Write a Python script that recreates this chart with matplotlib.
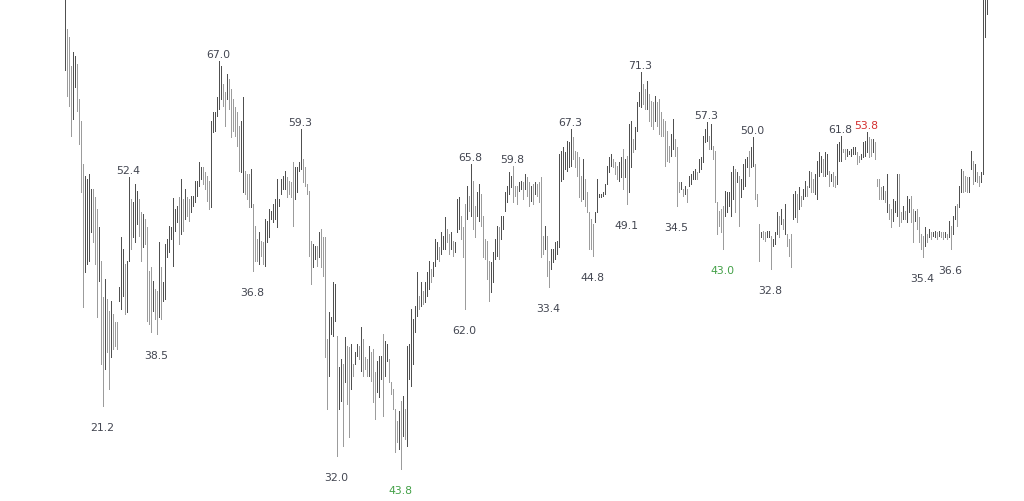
import matplotlib
matplotlib.use("Agg")
import matplotlib.pyplot as plt

# High / low of each bar (chart units)
highs = [532,472,464,435,449,445,437,402,380,337,325,322,327,312,312,304,292,274,240,204,
         222,202,190,200,187,179,179,214,264,252,237,240,324,302,299,317,310,302,289,287,
         282,274,230,234,220,212,210,259,234,219,257,262,275,274,303,292,295,304,322,302,
         312,304,302,305,305,320,320,339,334,334,329,325,320,380,389,389,404,440,435,417,
         409,427,422,412,402,394,389,375,380,404,330,327,327,332,297,275,262,269,260,259,
         282,280,292,290,297,302,322,302,322,325,330,324,320,319,339,334,334,339,372,342,
         334,317,310,260,257,255,255,269,272,264,264,162,189,184,219,217,165,134,142,137,
         164,155,154,157,137,149,157,155,174,162,144,142,155,149,152,129,140,145,145,167,
         160,157,142,119,112,92,80,90,100,105,92,155,157,192,182,195,229,205,219,210,
         219,229,240,232,239,262,259,254,269,265,284,272,267,269,260,259,302,304,285,274,
         297,315,305,337,320,295,309,317,307,285,262,260,240,239,249,262,275,274,285,285,
         309,315,329,325,335,315,315,319,320,319,327,324,319,315,317,319,317,319,324,265,
         275,265,240,252,252,259,260,347,350,354,349,360,359,372,364,350,349,344,325,342,
         322,309,289,282,277,289,322,307,307,309,317,335,344,347,342,339,335,339,344,352,
         342,345,377,380,362,374,399,409,429,417,412,420,407,400,399,405,399,402,389,382,
         380,370,355,367,382,362,354,319,319,312,315,312,325,327,330,332,329,342,344,365,
         372,379,365,377,355,350,299,290,292,295,310,309,309,329,335,332,329,325,322,337,
         342,344,350,354,364,337,307,277,269,270,269,270,270,265,262,269,289,285,292,282,
         297,267,262,267,307,310,307,314,305,312,320,315,330,329,322,327,340,349,345,342,
         349,347,330,327,329,325,357,359,365,352,352,352,350,352,354,354,349,345,347,359,
         360,369,364,362,362,359,322,322,314,315,310,327,297,292,302,300,327,327,289,295,
         290,305,302,305,292,290,292,284,267,265,274,267,272,269,269,270,269,270,269,269,
         269,267,280,275,285,295,297,315,332,330,325,324,324,350,340,337,329,325,329,532,
         532,532]
lows = [431,405,395,365,382,414,390,357,309,194,229,237,240,269,259,237,184,220,137,95,
        132,149,112,144,152,155,152,200,192,205,187,189,240,252,264,259,277,265,240,254,
        257,180,177,169,190,182,167,184,182,200,202,244,249,262,235,270,279,257,267,270,
        282,285,280,289,295,299,305,315,322,317,312,300,292,294,369,370,385,392,402,395,
        375,402,392,364,370,365,355,330,329,309,307,302,294,294,230,240,240,237,245,237,
        235,259,264,282,279,282,274,295,307,312,312,304,307,304,275,302,309,330,332,319,
        315,307,245,217,234,242,235,244,234,225,144,92,125,167,165,180,45,92,100,55,
        119,97,64,112,125,137,145,142,130,125,132,125,125,120,99,82,109,104,122,85,
        125,140,119,107,92,49,59,52,32,65,62,55,122,115,137,169,185,192,195,197,
        199,205,212,219,225,235,242,240,247,252,252,259,247,252,245,249,269,272,262,244,
        192,282,290,285,272,264,285,280,275,244,242,222,200,209,219,242,245,242,262,272,
        290,299,307,314,299,305,297,310,312,302,312,305,295,300,297,307,305,299,244,247,
        252,225,214,232,239,242,247,254,320,322,332,330,334,335,342,334,325,304,300,302,
        295,289,252,252,245,279,289,304,304,305,307,317,329,335,334,327,322,320,324,312,
        324,297,309,334,349,352,370,395,394,397,392,392,380,375,372,380,375,367,365,365,
        335,340,339,345,352,345,295,309,312,305,307,299,315,317,322,322,322,329,332,339,
        359,360,352,352,342,299,267,275,269,252,285,289,295,285,302,289,319,275,304,312,
        315,334,325,334,335,302,295,240,264,262,260,264,264,232,255,257,267,264,277,272,
        267,255,245,234,282,284,279,292,295,302,305,305,314,309,309,307,302,325,329,325,
        325,327,315,320,315,314,317,340,340,349,342,345,347,345,347,347,337,339,342,344,
        345,349,344,345,349,342,315,302,302,302,299,289,282,274,280,289,285,275,279,282,
        282,279,289,279,259,280,272,259,252,244,255,259,264,262,265,264,262,265,264,262,
        264,262,264,252,267,282,275,294,309,309,310,309,309,332,317,320,319,315,319,327,
        464,487]

# Pivot labels: bar index, text, placement, colour key
label_idx  = [19, 32, 46, 77, 94, 118, 136, 168, 200, 203, 224, 242, 253, 264, 288,
              281, 306, 321, 329, 344, 353, 388, 401, 429, 443]
label_text = ["21.2", "52.4", "38.5", "67.0", "36.8", "59.3", "32.0", "43.8", "62.0",
              "65.8", "59.8", "33.4", "67.3", "44.8", "71.3", "49.1", "34.5", "57.3",
              "43.0", "50.0", "32.8", "61.8", "53.8", "35.4", "36.6"]
label_pos  = ["low", "high", "low", "high", "low", "high", "low", "low", "low", "high",
              "high", "low", "high", "low", "high", "low", "low", "high", "low", "high",
              "low", "high", "high", "low", "low"]
label_kind = ["n", "n", "n", "n", "n", "n", "n", "g", "n", "n", "n", "n", "n", "n", "n",
              "n", "n", "n", "g", "n", "n", "n", "r", "n", "n"]

colors = {"n": "#434651", "g": "#43a047", "r": "#d32f2f"}
DARK, LIGHT = "#505050", "#9c9c9c"

n = min(len(highs), len(lows))
fig = plt.figure(figsize=(10.24, 5.02), dpi=100)
ax = fig.add_axes([0, 0, 1, 1])
ax.set_xlim(-32.25, 479.75)
ax.set_ylim(0, 502)
ax.axis("off")

xs = list(range(n))
cols = []
for i in range(n):
    mid = (highs[i] + lows[i]) / 2
    prev = (highs[i - 1] + lows[i - 1]) / 2 if i > 0 else mid
    cols.append(DARK if mid >= prev else LIGHT)
ax.vlines(xs, lows[:n], highs[:n], colors=cols, linewidth=0.72, antialiased=False)

for i, t, p, k in zip(label_idx, label_text, label_pos, label_kind):
    if p == "high":
        ax.annotate(t, (i, highs[i]), xytext=(0, 7), textcoords="offset pixels",
                    ha="center", va="center", fontsize=7.8, color=colors[k],
                    family="DejaVu Sans")
    else:
        ax.annotate(t, (i, lows[i]), xytext=(0, -21), textcoords="offset pixels",
                    ha="center", va="center", fontsize=7.8, color=colors[k],
                    family="DejaVu Sans")

fig.savefig("out.png", dpi=100, facecolor="white")
